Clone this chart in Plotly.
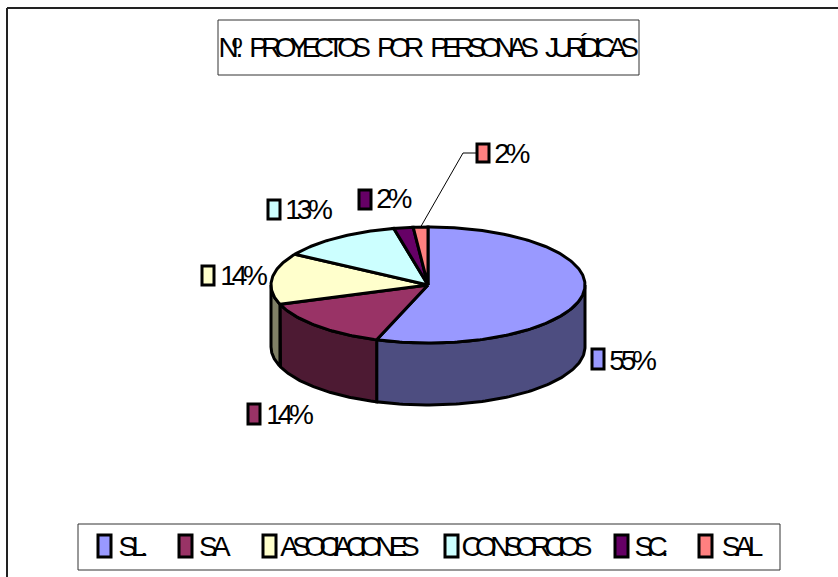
import numpy as np
import plotly.graph_objects as go

categories = ["S.L.", "S.A", "ASOCIACIONES", "CONSORCIOS", "S.C.", "S.A.L"]
values = [55.3, 14.3, 14.3, 12.6, 2.0, 1.5]
labels = ["55%", "14%", "14%", "13%", "2%", "2%"]
top_colors = ["#9999FF", "#993366", "#FFFFCC", "#CCFFFF", "#660066", "#FF8080"]
side_colors = ["#4D4D80", "#4D1A33", "#808066", "#668080", "#330033", "#804040"]
title = "Nº. PROYECTOS POR PERSONAS JURÍDICAS"

W, H = 838, 577
CX, CY, RX, RY, DEPTH = 428, 285, 157, 58, 62
fracs = np.array(values) / sum(values)
ends = np.cumsum(fracs) * 2 * np.pi
starts = ends - fracs * 2 * np.pi
fig = go.Figure()


def ell(t):
    return CX + RX * np.sin(t), CY - RY * np.cos(t)


def poly(x, y, fill, width=3):
    fig.add_trace(go.Scatter(x=x, y=y, mode="lines", fill="toself", fillcolor=fill,
                             line=dict(color="black", width=width),
                             hoverinfo="skip", showlegend=False))


# Side walls: only the arcs on the visible front half
for s, e, c in zip(starts, ends, side_colors):
    a, b = max(s, np.pi / 2), min(e, 3 * np.pi / 2)
    if a < b:
        t = np.linspace(a, b, 90)
        x, y = ell(t)
        poly(np.r_[x, x[::-1], x[0]], np.r_[y, y[::-1] + DEPTH, y[0]], c)

# Top faces
for s, e, c in zip(starts, ends, top_colors):
    t = np.linspace(s, e, max(4, int((e - s) * 60)))
    x, y = ell(t)
    poly(np.r_[CX, x, CX], np.r_[CY, y, CY], c)

# Leader line for the last slice
mid = (starts[-1] + ends[-1]) / 2
lx, ly = ell(mid)
fig.add_trace(go.Scatter(x=[lx, 463, 476], y=[ly, 153, 153], mode="lines",
                         line=dict(color="black", width=1), hoverinfo="skip", showlegend=False))

shapes = [
    dict(type="line", x0=7, y0=8, x1=7, y1=H, layer="below", line=dict(color="#222222", width=2)),
    dict(type="line", x0=7, y0=8, x1=W, y1=8, layer="below", line=dict(color="#222222", width=2)),
    dict(type="rect", x0=218, y0=20, x1=639, y1=75, layer="below", line=dict(color="#333333", width=1), fillcolor="white"),
    dict(type="rect", x0=78, y0=524, x1=780, y1=570, layer="below", line=dict(color="#333333", width=1), fillcolor="white"),
]

# layout of label keys and legend keys (left, right, top, bottom edges)
label_keys = [(591, 605, 348, 370), (247, 261, 403, 425), (201, 215, 265, 286),
              (267, 281, 199, 220), (358, 372, 189, 210), (476, 490, 143, 163)]
label_text = [(634, 360), (291, 414), (245, 275), (310, 209), (395, 198), (513, 153)]
legend_keys = [(97, 112), (178, 193), (262, 277), (444, 459), (614, 629), (698, 713)]
legend_text = [133, 214.5, 349.5, 526, 650.5, 741.5]

for (x0, x1, y0, y1), c in zip(label_keys, top_colors):
    shapes.append(dict(type="rect", x0=x0 + 1, x1=x1 - 1, y0=y0 + 1, y1=y1 - 1, fillcolor=c,
                       line=dict(color="black", width=3)))
for (x0, x1), c in zip(legend_keys, top_colors):
    shapes.append(dict(type="rect", x0=x0 + 1, x1=x1 - 1, y0=535, y1=557, fillcolor=c,
                       line=dict(color="black", width=3)))

FONT = "Liberation Sans, Arial, sans-serif"
SPACE_FIX = 3
ann = [dict(x=428 - SPACE_FIX, y=47, text=title, font=dict(family=FONT, size=28, color="black"),
            showarrow=False, xanchor="center", yanchor="middle")]
for (x, y), t in zip(label_text, labels):
    ann.append(dict(x=x - SPACE_FIX, y=y, text=t, font=dict(family=FONT, size=28, color="black"),
                    showarrow=False, xanchor="center", yanchor="middle"))
for x, t in zip(legend_text, categories):
    ann.append(dict(x=x - SPACE_FIX, y=546, text=t, font=dict(family=FONT, size=28, color="black"),
                    showarrow=False, xanchor="center", yanchor="middle"))

fig.update_layout(
    width=W, height=H, margin=dict(l=0, r=0, t=0, b=0), autosize=False,
    paper_bgcolor="white", plot_bgcolor="white", showlegend=False,
    xaxis=dict(range=[0, W], visible=False, fixedrange=True),
    yaxis=dict(range=[H, 0], visible=False, fixedrange=True),
    shapes=shapes, annotations=ann,
)

post = """
document.body.style.margin='0';
document.querySelectorAll('.annotation-text').forEach(function(n){
  var t=n.textContent;
  if(t.indexOf('%')>=0){n.style.letterSpacing='-0.15em';}
  else{n.style.letterSpacing='-0.24em';n.style.wordSpacing='0.42em';}
});
"""
fig.write_html("out.html", post_script=post, config=dict(displayModeBar=False))
